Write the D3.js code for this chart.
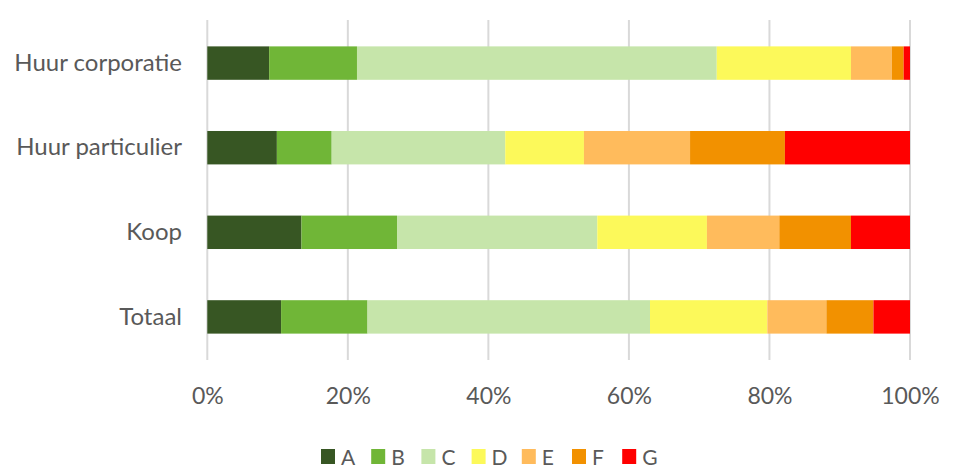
<!DOCTYPE html>
<html><head><meta charset="utf-8">
<script src="https://cdn.jsdelivr.net/npm/d3@7"></script>
<style>body{margin:0;background:#fff;} svg{display:block;font-family:Lato,"Open Sans",sans-serif;}</style>
</head><body>
<svg id="c" width="958" height="475"></svg>
<script>
const categories = ["Huur corporatie","Huur particulier","Koop","Totaal"];
const labels = ["A","B","C","D","E","F","G"];
const A = [8.8, 9.9, 13.4, 10.5];
const B = [12.5, 7.8, 13.6, 12.3];
const C = [51.2, 24.7, 28.5, 40.2];
const D = [19.1, 11.2, 15.6, 16.7];
const E = [5.8, 15.1, 10.3, 8.4];
const F = [1.7, 13.5, 10.2, 6.7];
const G = [0.9, 17.8, 8.4, 5.2];
const tickValues = [0,0.2,0.4,0.6,0.8,1.0];
const colors = ["#375623","#70B637","#C6E5AA","#FCF95A","#FFBB5C","#F29100","#FF0000"];

const seriesVals = [A,B,C,D,E,F,G];
const rows = categories.map((c,i)=>{
  const r = {cat:c};
  labels.forEach((l,j)=> r[l]=seriesVals[j][i]);
  return r;
});
const svg = d3.select("#c");
const x = d3.scaleLinear().domain([0,1]).range([207.3,910]);
const y = d3.scaleBand().domain(categories).range([21,359]).paddingInner(0.605).paddingOuter(0.3);

const stack = d3.stack().keys(labels).offset(d3.stackOffsetExpand);
const series = stack(rows);

svg.append("g").selectAll("line").data(tickValues).join("line")
  .attr("x1",d=>x(d)).attr("x2",d=>x(d)).attr("y1",20).attr("y2",360)
  .attr("stroke","#d9d9d9").attr("stroke-width",2);

svg.append("g").selectAll("g").data(series).join("g")
  .attr("fill",(d,i)=>colors[i])
  .selectAll("rect").data(d=>d).join("rect")
  .attr("x",d=>x(d[0])).attr("width",d=>x(d[1])-x(d[0]))
  .attr("y",d=>y(d.data.cat)).attr("height",y.bandwidth());

const xAxis = d3.axisBottom(x).tickValues(tickValues).tickFormat(d3.format(".0%")).tickSize(0).tickPadding(0);
const gx = svg.append("g").attr("transform","translate(0,387.5)").call(xAxis);
gx.select(".domain").remove();
gx.selectAll("text").attr("font-size",23).attr("fill","#595959").attr("font-family","Lato,'Open Sans',sans-serif");

const yAxis = d3.axisLeft(y).tickSize(0).tickPadding(0);
const gy = svg.append("g").attr("transform","translate(182,0)").call(yAxis);
gy.select(".domain").remove();
gy.selectAll("text").attr("font-size",24).attr("fill","#595959").attr("font-family","Lato,'Open Sans',sans-serif");

const lg = svg.append("g").attr("transform","translate(321,449)");
const item = lg.selectAll("g").data(labels).join("g").attr("transform",(d,i)=>`translate(${i*50.2},0)`);
item.append("rect").attr("width",14).attr("height",15).attr("fill",(d,i)=>colors[i]);
item.append("text").attr("x",20).attr("y",15.5).text(d=>d).attr("font-size",21).attr("fill","#595959");
</script>
</body></html>
